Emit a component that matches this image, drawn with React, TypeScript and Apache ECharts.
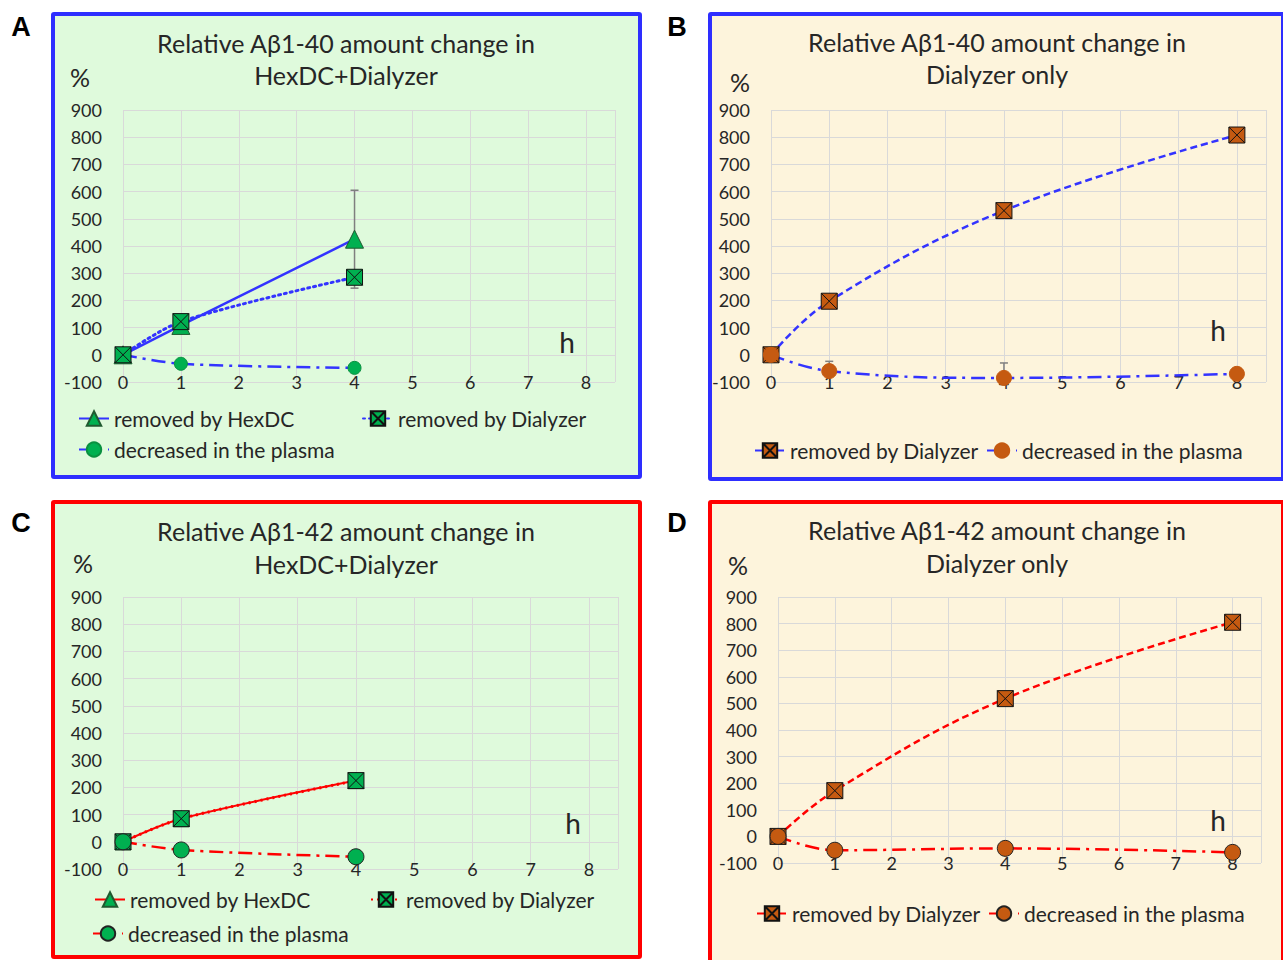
import React, { useEffect, useRef } from "react";
import * as echarts from "echarts";

// ---------- data ----------
const hoursAC = [0, 1, 4];
const hoursBD = [0, 1, 4, 8];

const aHexDC = [0, 108, 425];
const aHexDCErr = [0, 0, 180];
const aDialyzer = [0, 122, 285];
const aPlasma = [0, -33, -48];

const bDialyzer = [0, 197, 530, 808];
const bPlasma = [0, -60, -85, -70];
const bPlasmaErrUp = [0, 36, 55, 0];

const cHexDC = [0, 85, 225];
const cDialyzer = [0, 85, 225];
const cPlasma = [0, -30, -55];

const dDialyzer = [0, 172, 518, 805];
const dPlasma = [0, -52, -45, -60];

const panelLetters = ["A", "B", "C", "D"];
const titlesLine1 = [
  "Relative Aβ1-40 amount change in",
  "Relative Aβ1-40 amount change in",
  "Relative Aβ1-42 amount change in",
  "Relative Aβ1-42 amount change in",
];
const titlesLine2 = ["HexDC+Dialyzer", "Dialyzer only", "HexDC+Dialyzer", "Dialyzer only"];
const legendHexDC = "removed by HexDC";
const legendDialyzer = "removed by Dialyzer";
const legendPlasma = "decreased in the plasma";

// ---------- styles ----------
const GREEN = "#00b050";
const ORANGE = "#c55a11";
const BLUE = "#3333ff";
const RED = "#ff0000";
const TEXT = "#262626";
const FONT = "Lato, 'Open Sans', sans-serif";
const XSQ = "path://M0,0H20V20H0Z M0,0L20,20 M20,0L0,20";

const zip = (xs: number[], ys: number[]) => xs.map((x, i) => [x, ys[i]]);

const grids = [
  { left: 123, top: 110, width: 492, height: 272 },
  { left: 771, top: 110, width: 495, height: 272 },
  { left: 123, top: 597, width: 495, height: 272 },
  { left: 778, top: 597, width: 483, height: 266 },
];

const panels = [
  { x: 51, y: 12, w: 591, ht: 467, bg: "#dffadc", border: "#2e2eff", letter: [21, 27], title: 346, t1: 43, t2: 75, pct: [80, 77], hPos: [567, 342] },
  { x: 708, y: 12, w: 577, ht: 469, bg: "#fdf4dc", border: "#2e2eff", letter: [677, 27], title: 997, t1: 42, t2: 74, pct: [740, 82], hPos: [1218, 330] },
  { x: 51, y: 500, w: 591, ht: 459, bg: "#dffadc", border: "#ff0000", letter: [21, 523], title: 346, t1: 531, t2: 564, pct: [83, 563], hPos: [573, 823] },
  { x: 708, y: 500, w: 577, ht: 470, bg: "#fdf4dc", border: "#ff0000", letter: [677, 523], title: 997, t1: 530, t2: 563, pct: [738, 565], hPos: [1218, 820] },
];

function axesFor(i: number) {
  const x = {
    type: "value",
    gridIndex: i,
    min: 0,
    max: 8.5,
    interval: 1,
    axisLine: { show: false, onZero: false },
    axisTick: { show: false },
    splitLine: { show: true, lineStyle: { color: "#d9d9d9", width: 1 } },
    axisLabel: {
      margin: -9,
      fontSize: 18,
      color: TEXT,
      fontFamily: FONT,
      formatter: (v: number) => (Number.isInteger(v) ? String(v) : ""),
    },
  };
  const y = {
    type: "value",
    gridIndex: i,
    min: -100,
    max: 900,
    interval: 100,
    axisLine: { show: false },
    axisTick: { show: false },
    splitLine: { show: true, lineStyle: { color: "#d9d9d9", width: 1 } },
    axisLabel: { margin: 21, fontSize: 18, color: TEXT, fontFamily: FONT },
  };
  return { x, y };
}

function errorSeries(i: number, data: number[][]) {
  return {
    type: "custom",
    xAxisIndex: i,
    yAxisIndex: i,
    silent: true,
    z: 1,
    encode: { x: 0, y: [1, 2] },
    data,
    renderItem: (params: any, api: any) => {
      const x = api.value(0);
      const lo = api.coord([x, api.value(1)]);
      const hi = api.coord([x, api.value(2)]);
      const st = { stroke: "#7f7f7f", lineWidth: 1.5 };
      return {
        type: "group",
        children: [
          { type: "line", shape: { x1: lo[0], y1: lo[1], x2: hi[0], y2: hi[1] }, style: st },
          { type: "line", shape: { x1: lo[0] - 4, y1: lo[1], x2: lo[0] + 4, y2: lo[1] }, style: st },
          { type: "line", shape: { x1: hi[0] - 4, y1: hi[1], x2: hi[0] + 4, y2: hi[1] }, style: st },
        ],
      };
    },
  };
}

const DASHDOT = [14, 6, 3, 6];
const DOTTED = [2, 4];
const DASHED = [7, 4];

function buildOption() {
  const xAxes: any[] = [];
  const yAxes: any[] = [];
  for (let i = 0; i < 4; i++) {
    const a = axesFor(i);
    xAxes.push(a.x);
    yAxes.push(a.y);
  }

  const series: any[] = [
    // ---- A ----
    errorSeries(
      0,
      hoursAC
        .map((h, k) => [h, aHexDC[k] - aHexDCErr[k], aHexDC[k] + aHexDCErr[k]])
        .filter((_, k) => aHexDCErr[k] > 0)
    ),
    {
      name: legendHexDC + "|A",
      type: "line",
      xAxisIndex: 0,
      yAxisIndex: 0,
      data: zip(hoursAC, aHexDC),
      symbol: "triangle",
      symbolSize: 18,
      lineStyle: { color: BLUE, width: 2.5, type: "solid" },
      itemStyle: { color: GREEN, borderColor: "#205a30", borderWidth: 1 },
      z: 3,
    },
    {
      name: legendDialyzer + "|A",
      type: "line",
      xAxisIndex: 0,
      yAxisIndex: 0,
      data: zip(hoursAC, aDialyzer),
      smooth: 0.3,
      symbol: XSQ,
      symbolSize: 16,
      lineStyle: { color: BLUE, width: 3, type: DOTTED, cap: "round" },
      itemStyle: { color: GREEN, borderColor: "#111", borderWidth: 1 },
      z: 4,
    },
    {
      name: legendPlasma + "|A",
      type: "line",
      xAxisIndex: 0,
      yAxisIndex: 0,
      data: zip(hoursAC, aPlasma),
      smooth: 0.3,
      symbol: "circle",
      symbolSize: 13,
      lineStyle: { color: BLUE, width: 2.5, type: DASHDOT },
      itemStyle: { color: GREEN, borderColor: "#0a9040", borderWidth: 1 },
      z: 3,
    },
    // ---- B ----
    errorSeries(
      1,
      hoursBD.map((h, k) => [h, bPlasma[k], bPlasma[k] + bPlasmaErrUp[k]]).filter((_, k) => bPlasmaErrUp[k] > 0)
    ),
    {
      name: legendDialyzer + "|B",
      type: "line",
      xAxisIndex: 1,
      yAxisIndex: 1,
      data: zip(hoursBD, bDialyzer),
      smooth: 0.4,
      symbol: XSQ,
      symbolSize: 16,
      lineStyle: { color: BLUE, width: 2.5, type: DASHED },
      itemStyle: { color: ORANGE, borderColor: "#111", borderWidth: 1 },
      z: 3,
    },
    {
      name: legendPlasma + "|B",
      type: "line",
      xAxisIndex: 1,
      yAxisIndex: 1,
      data: zip(hoursBD, bPlasma),
      smooth: 0.4,
      symbol: "circle",
      symbolSize: 15,
      lineStyle: { color: BLUE, width: 2.5, type: DASHDOT },
      itemStyle: { color: ORANGE, borderColor: ORANGE, borderWidth: 1 },
      z: 3,
    },
    // ---- C ----
    {
      name: legendHexDC + "|C",
      type: "line",
      xAxisIndex: 2,
      yAxisIndex: 2,
      data: zip(hoursAC, cHexDC),
      smooth: 0.3,
      symbol: "triangle",
      symbolSize: 16,
      lineStyle: { color: RED, width: 2, type: "solid" },
      itemStyle: { color: GREEN, borderColor: "#205a30", borderWidth: 1 },
      z: 2,
    },
    {
      name: legendDialyzer + "|C",
      type: "line",
      xAxisIndex: 2,
      yAxisIndex: 2,
      data: zip(hoursAC, cDialyzer),
      smooth: 0.3,
      symbol: XSQ,
      symbolSize: 16,
      lineStyle: { color: RED, width: 3, type: DOTTED },
      itemStyle: { color: GREEN, borderColor: "#111", borderWidth: 1 },
      z: 3,
    },
    {
      name: legendPlasma + "|C",
      type: "line",
      xAxisIndex: 2,
      yAxisIndex: 2,
      data: zip(hoursAC, cPlasma),
      smooth: 0.3,
      symbol: "circle",
      symbolSize: 16,
      lineStyle: { color: RED, width: 2.5, type: DASHDOT },
      itemStyle: { color: GREEN, borderColor: "#222", borderWidth: 1 },
      z: 3,
    },
    // ---- D ----
    {
      name: legendDialyzer + "|D",
      type: "line",
      xAxisIndex: 3,
      yAxisIndex: 3,
      data: zip(hoursBD, dDialyzer),
      smooth: 0.4,
      symbol: XSQ,
      symbolSize: 16,
      lineStyle: { color: RED, width: 2.5, type: DASHED },
      itemStyle: { color: ORANGE, borderColor: "#111", borderWidth: 1 },
      z: 3,
    },
    {
      name: legendPlasma + "|D",
      type: "line",
      xAxisIndex: 3,
      yAxisIndex: 3,
      data: zip(hoursBD, dPlasma),
      smooth: 0.4,
      symbol: "circle",
      symbolSize: 16,
      lineStyle: { color: RED, width: 2.5, type: DASHDOT },
      itemStyle: { color: ORANGE, borderColor: "#222", borderWidth: 1 },
      z: 3,
    },
  ];

  const legCommon = {
    orient: "horizontal",
    itemWidth: 30,
    itemHeight: 18,
    padding: 0,
    formatter: (n: string) => n.split("|")[0],
    textStyle: { fontSize: 21, fontFamily: FONT, color: TEXT },
  };
  const legendPos: [string, number, number][] = [
    [legendHexDC + "|A", 78, 408],
    [legendDialyzer + "|A", 362, 408],
    [legendPlasma + "|A", 78, 439],
    [legendDialyzer + "|B", 754, 440],
    [legendPlasma + "|B", 986, 440],
    [legendHexDC + "|C", 94, 889],
    [legendDialyzer + "|C", 370, 889],
    [legendPlasma + "|C", 92, 923],
    [legendDialyzer + "|D", 756, 903],
    [legendPlasma + "|D", 988, 903],
  ];
  const legend = legendPos.map(([name, left, top]) => ({ ...legCommon, left, top, data: [name] }));

  const elements: any[] = [];
  panels.forEach((p, i) => {
    const txt = (s: string, x: number, y: number, size: number, weight = "normal", family = FONT, color = TEXT) => ({
      type: "text",
      z: 101,
      x,
      y,
      style: {
        text: s,
        fontSize: size,
        fontWeight: weight,
        fontFamily: family,
        fill: color,
        align: "center",
        verticalAlign: "middle",
        textAlign: "center",
        textVerticalAlign: "middle",
      },
    });
    elements.push(txt(panelLetters[i], p.letter[0], p.letter[1], 27, "bold", "'Liberation Sans', Arial, sans-serif", "#000"));
    elements.push(txt(titlesLine1[i], p.title, p.t1, 25));
    elements.push(txt(titlesLine2[i], p.title, p.t2, 25));
    elements.push(txt("%", p.pct[0], p.pct[1], 25));
    elements.push(txt("h", p.hPos[0], p.hPos[1], 28));
  });

  return {
    animation: false,
    backgroundColor: "transparent",
    grid: grids.map((g) => ({ ...g, containLabel: false })),
    xAxis: xAxes,
    yAxis: yAxes,
    legend,
    series,
    graphic: { elements },
  };
}

export default function App() {
  const ref = useRef<HTMLDivElement>(null);
  useEffect(() => {
    if (!ref.current) return;
    const chart = echarts.init(ref.current, undefined, { renderer: "svg" });
    chart.setOption(buildOption() as any);
    return () => chart.dispose();
  }, []);
  return (
    <div
      style={{
        position: "fixed",
        left: 0,
        top: 0,
        width: 1283,
        height: 960,
        background: "#fff",
        overflow: "hidden",
      }}
    >
      {panels.map((p, i) => (
        <div
          key={i}
          style={{
            position: "absolute",
            left: p.x,
            top: p.y,
            width: p.w,
            height: p.ht,
            boxSizing: "border-box",
            border: `4px solid ${p.border}`,
            borderRadius: 3,
            background: p.bg,
          }}
        />
      ))}
      <div ref={ref} style={{ position: "absolute", left: 0, top: 0, width: 1283, height: 960 }} />
    </div>
  );
}
